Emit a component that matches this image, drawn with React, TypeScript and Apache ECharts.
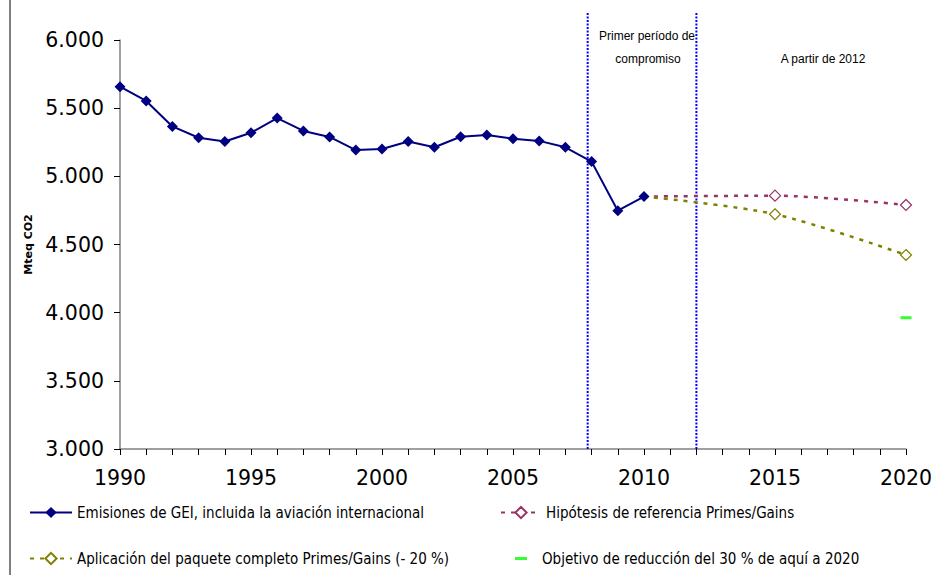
import React, { useEffect, useRef } from "react";
import * as echarts from "echarts";

const years = [1990, 1991, 1992, 1993, 1994, 1995, 1996, 1997, 1998, 1999, 2000, 2001, 2002, 2003, 2004, 2005, 2006, 2007, 2008, 2009, 2010];
const emissions = [5658, 5553, 5366, 5283, 5255, 5320, 5427, 5333, 5289, 5193, 5200, 5255, 5213, 5290, 5303, 5276, 5260, 5213, 5108, 4748, 4852];
const projYears = [2010, 2015, 2020];
const referenceHyp = [4852, 4858, 4790];
const fullPackage = [4852, 4722, 4423];
const targetYear = [2020];
const target = [3963];
const periodLines = [2007.85, 2012];

const seriesNames = [
  "Emisiones de GEI, incluida la aviación internacional",
  "Hipótesis de referencia Primes/Gains",
  "Aplicación del paquete completo Primes/Gains (- 20 %)",
  "Objetivo de reducción del 30 % de aquí a 2020",
];

export default function App() {
  const ref = useRef<HTMLDivElement>(null);
  useEffect(() => {
    document.body.style.margin = "0";
    const chart = echarts.init(ref.current!, null, { renderer: "svg" });
    const font = "DejaVu Sans";
    const legendText = { fontFamily: "'DejaVu Sans Condensed', 'DejaVu Sans'", fontSize: 15, color: "#000" };
    const projData = (vals: number[]) =>
      projYears.map((y, i) => (i === 0 ? { value: [y, vals[i]], symbol: "none" } : { value: [y, vals[i]] }));
    const annStyle = { fontFamily: "Liberation Sans", fontSize: 12, fill: "#000", align: "center", verticalAlign: "middle" };
    chart.setOption({
      animation: false,
      backgroundColor: "#fff",
      grid: { left: 120, right: 30, top: 40, bottom: 126 },
      xAxis: {
        type: "value",
        min: 1990,
        max: 2020,
        interval: 1,
        splitLine: { show: false },
        axisLine: { lineStyle: { color: "#808080", width: 1.5 } },
        axisTick: { inside: false, length: 6, lineStyle: { color: "#000" } },
        axisLabel: {
          fontFamily: font,
          fontSize: 20.5,
          color: "#000",
          margin: 18,
          formatter: (v: number) => (v % 5 === 0 ? String(v) : ""),
        },
      },
      yAxis: {
        type: "value",
        min: 3000,
        max: 6000,
        interval: 500,
        splitLine: { show: false },
        axisLine: { show: true, lineStyle: { color: "#808080", width: 1.5 } },
        axisTick: { show: true, inside: false, length: 6, lineStyle: { color: "#000" } },
        axisLabel: {
          fontFamily: font,
          fontSize: 20.5,
          color: "#000",
          margin: 16,
          formatter: (v: number) => (v / 1000).toFixed(3),
        },
        name: "Mteq CO2",
        nameLocation: "middle",
        nameRotate: 90,
        nameGap: 86,
        nameTextStyle: { fontFamily: font, fontSize: 11, fontWeight: "bold", color: "#000" },
      },
      legend: [
        { left: 29, top: 505, padding: 0, itemWidth: 42, itemHeight: 14, textStyle: legendText, data: [seriesNames[0]] },
        { left: 500, top: 505, padding: 0, itemWidth: 40, itemHeight: 14, textStyle: legendText, data: [seriesNames[1]] },
        { left: 29, top: 551, padding: 0, itemWidth: 42, itemHeight: 14, textStyle: legendText, data: [seriesNames[2]] },
        {
          left: 515,
          top: 551,
          padding: 0,
          itemWidth: 12,
          itemHeight: 3,
          textStyle: { ...legendText, padding: [0, 0, 0, 10] },
          data: [{ name: seriesNames[3], icon: "rect" }],
        },
      ],
      graphic: [
        { type: "line", shape: { x1: 10, y1: 0, x2: 10, y2: 575 }, style: { stroke: "#000", lineWidth: 1 } },
        { type: "text", x: 647, y: 36, style: { text: "Primer período de", ...annStyle } },
        { type: "text", x: 648, y: 59, style: { text: "compromiso", ...annStyle } },
        { type: "text", x: 823, y: 59, style: { text: "A partir de 2012", ...annStyle } },
      ],
      series: [
        {
          type: "custom",
          silent: true,
          clip: false,
          data: periodLines.map((x) => [x, 3000]),
          renderItem: (_p: any, api: any) => {
            const p = api.coord([api.value(0), 3000]);
            return {
              type: "line",
              shape: { x1: p[0], y1: p[1], x2: p[0], y2: 12 },
              style: { stroke: "#0000ff", lineWidth: 2, lineDash: [2, 1.5] },
            };
          },
          z: 1,
        },
        {
          name: seriesNames[0],
          type: "line",
          data: years.map((y, i) => [y, emissions[i]]),
          symbol: "diamond",
          symbolSize: 11,
          lineStyle: { color: "#000080", width: 2 },
          itemStyle: { color: "#000080" },
          z: 5,
        },
        {
          name: seriesNames[1],
          type: "line",
          smooth: 0.3,
          data: projData(referenceHyp),
          symbol: "diamond",
          symbolSize: 11,
          lineStyle: { color: "#993366", width: 2.5, type: [4, 6] },
          itemStyle: { color: "#fff", borderColor: "#993366", borderWidth: 1.2 },
          z: 4,
        },
        {
          name: seriesNames[2],
          type: "line",
          smooth: 0.3,
          data: projData(fullPackage),
          symbol: "diamond",
          symbolSize: 11,
          lineStyle: { color: "#808000", width: 2.5, type: [4, 6] },
          itemStyle: { color: "#fff", borderColor: "#808000", borderWidth: 1.2 },
          z: 4,
        },
        {
          name: seriesNames[3],
          type: "scatter",
          data: targetYear.map((y, i) => [y, target[i]]),
          symbol: "rect",
          symbolSize: [11, 3],
          itemStyle: { color: "#00ff00" },
          z: 4,
        },
      ],
    });
    return () => chart.dispose();
  }, []);
  return <div ref={ref} style={{ width: 936, height: 575 }} />;
}
